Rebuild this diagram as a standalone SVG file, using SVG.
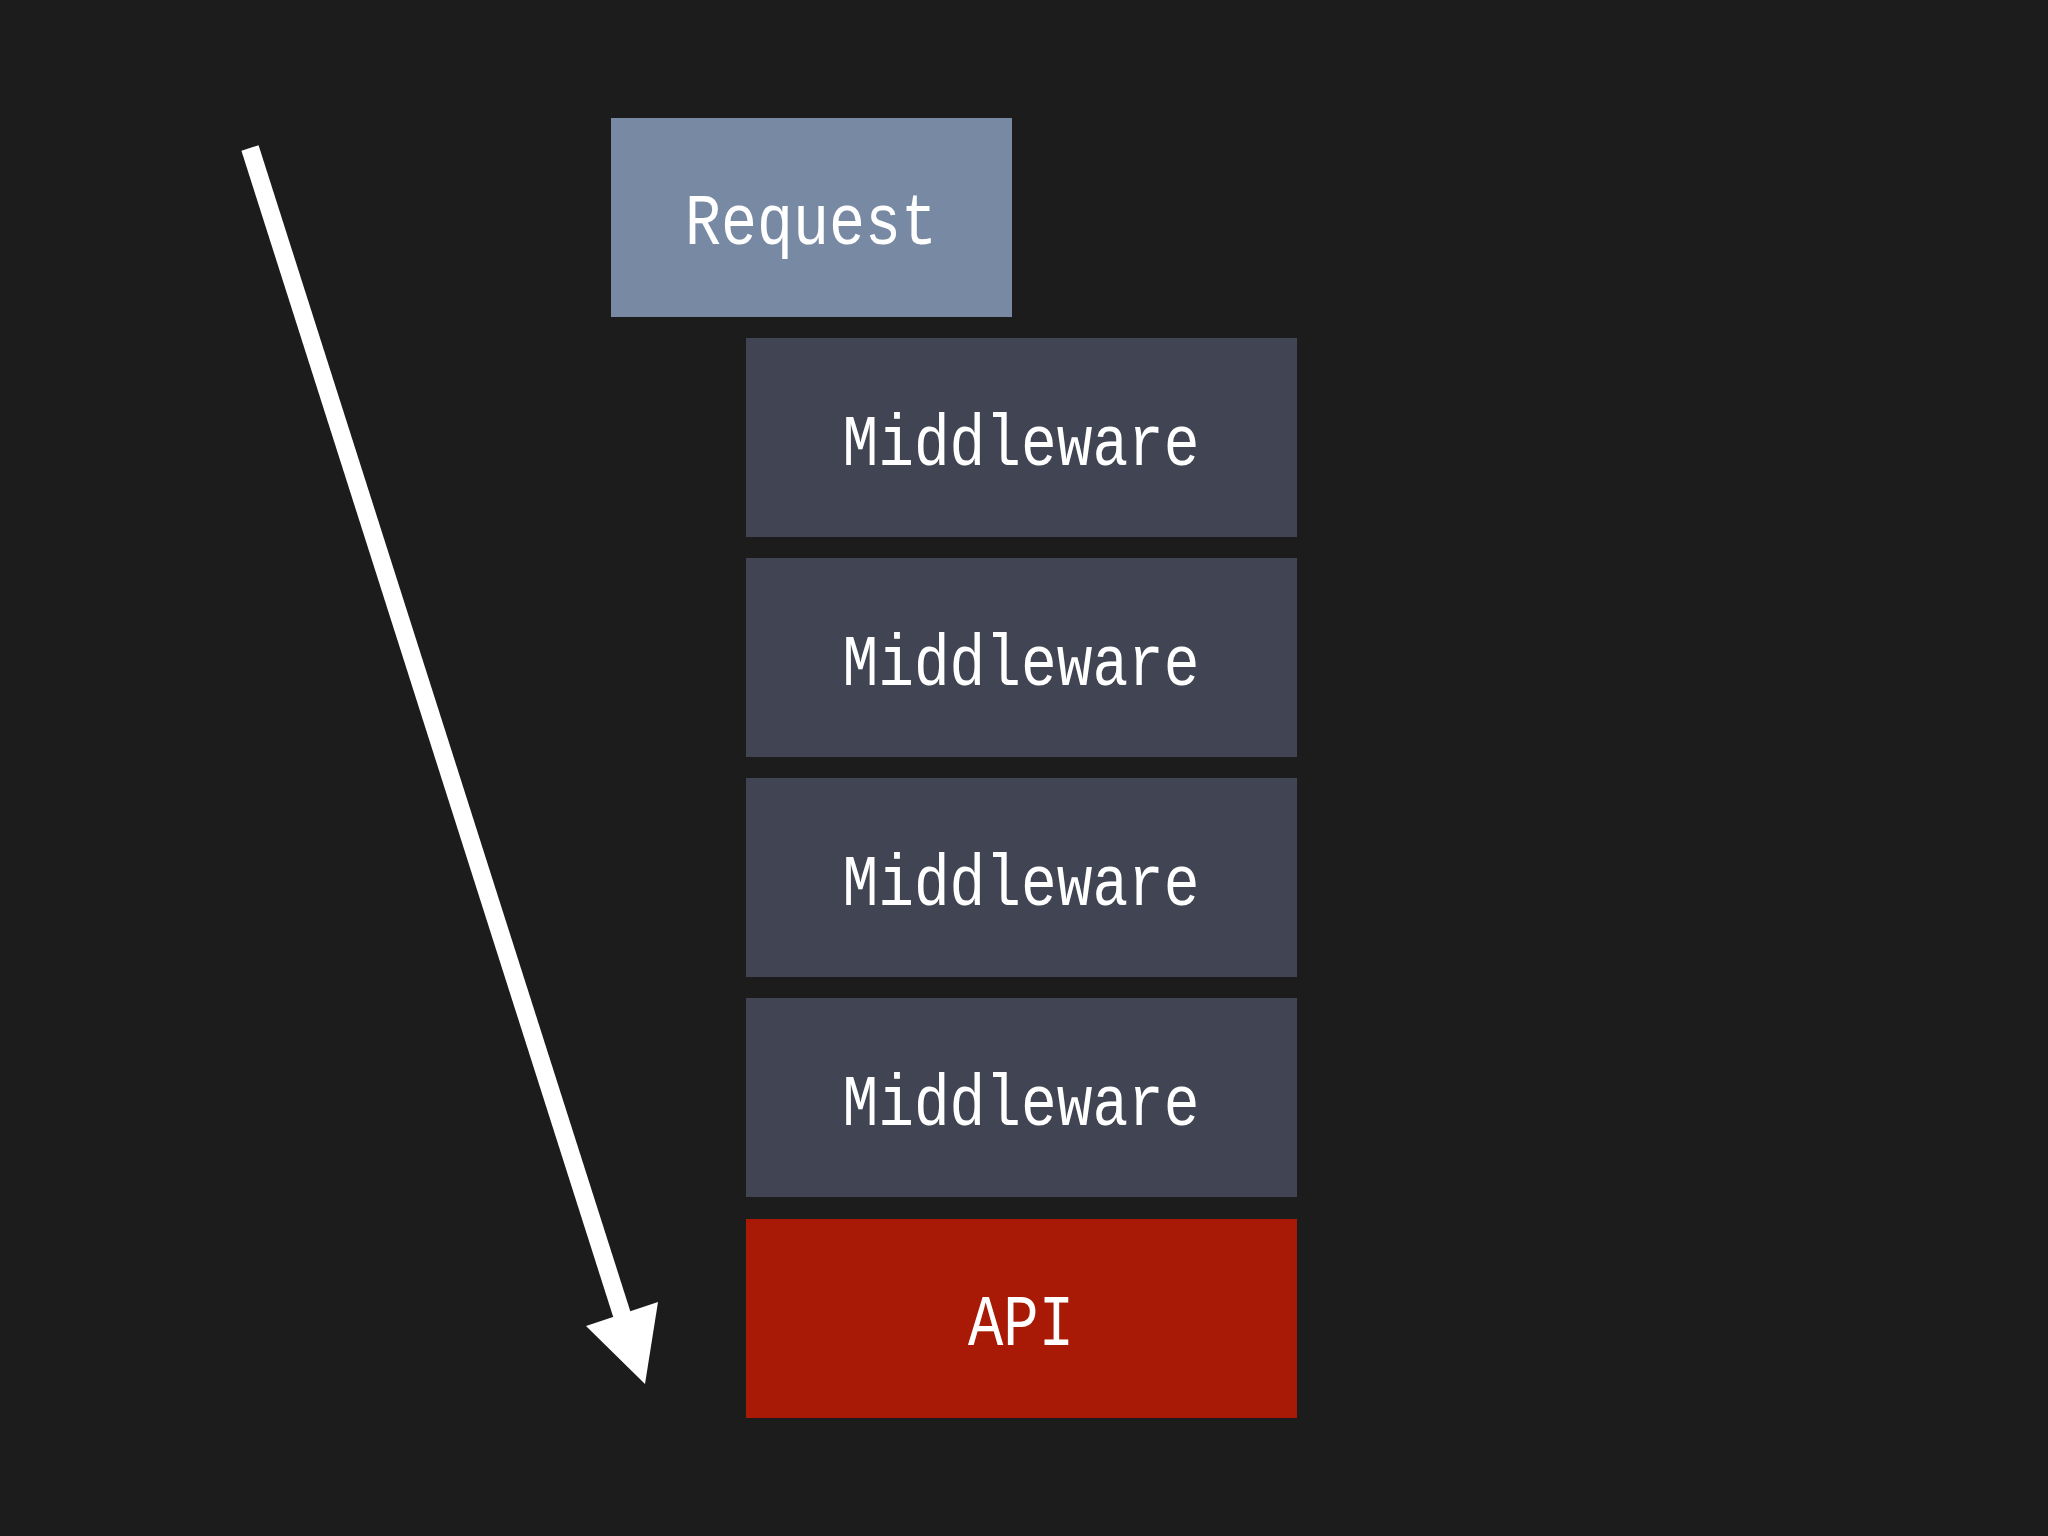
<svg xmlns="http://www.w3.org/2000/svg" width="2048" height="1536" viewBox="0 0 2048 1536">
<style>
.t{font-family:"Liberation Mono","DejaVu Sans Mono",monospace;font-size:72px;fill:#ffffff;text-anchor:middle}
.mw{fill:#414553}
</style>
<rect width="2048" height="1536" fill="#1c1c1d"/>
<g id="request"><rect x="611" y="118" width="401" height="199" fill="#7889a3"/><text class="t" x="811" y="244" textLength="252" lengthAdjust="spacingAndGlyphs">Request</text></g>
<g id="mw1"><rect class="mw" x="746" y="338" width="551" height="199"/><text class="t" x="1021" y="465" textLength="357" lengthAdjust="spacingAndGlyphs">Middleware</text></g>
<g id="mw2"><rect class="mw" x="746" y="558" width="551" height="199"/><text class="t" x="1021" y="685" textLength="357" lengthAdjust="spacingAndGlyphs">Middleware</text></g>
<g id="mw3"><rect class="mw" x="746" y="778" width="551" height="199"/><text class="t" x="1021" y="905" textLength="357" lengthAdjust="spacingAndGlyphs">Middleware</text></g>
<g id="mw4"><rect class="mw" x="746" y="998" width="551" height="199"/><text class="t" x="1021" y="1125" textLength="357" lengthAdjust="spacingAndGlyphs">Middleware</text></g>
<g id="api"><rect x="746" y="1219" width="551" height="199" fill="#a81a05"/><text class="t" x="1021" y="1345" textLength="106" lengthAdjust="spacingAndGlyphs">API</text></g>
<g id="connectors">
<line x1="250" y1="148" x2="623" y2="1318" stroke="#ffffff" stroke-width="18"/>
<polygon points="586,1326 658,1302 645,1384" fill="#ffffff"/>
</g>
</svg>
